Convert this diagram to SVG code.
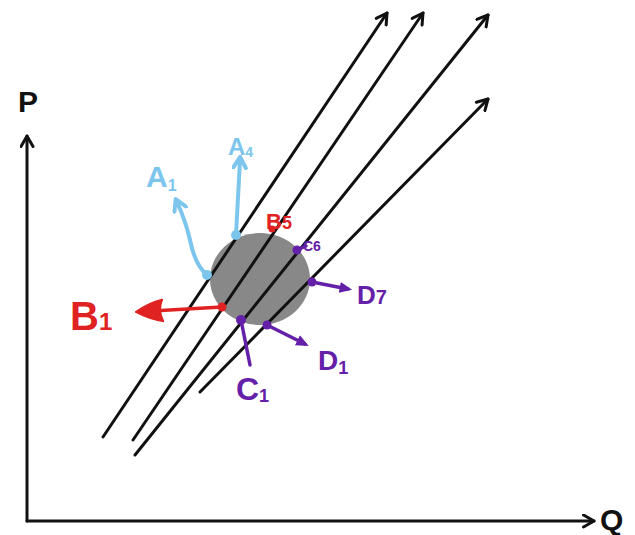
<svg xmlns="http://www.w3.org/2000/svg" width="635" height="535" viewBox="0 0 635 535">
<style>
.ax{stroke:#111;stroke-width:3;fill:none;stroke-linecap:round}
.ln{stroke:#111;stroke-width:3;fill:none;stroke-linecap:round}
.bl{stroke:#7cc6ee;stroke-width:4;fill:none;stroke-linecap:round}
.rd{stroke:#e02222;stroke-width:3.5;fill:none;stroke-linecap:round}
.pu{stroke:#6420a8;stroke-width:3.5;fill:none;stroke-linecap:round}
.t{font-family:"Liberation Sans",Arial,sans-serif}
</style>
<defs>
<marker id="ah" viewBox="0 0 10 10" refX="8" refY="5" markerWidth="5" markerHeight="5" orient="auto" markerUnits="strokeWidth">
<path d="M1,1 L8,5 L1,9" fill="none" stroke="#111" stroke-width="2" stroke-linecap="round" stroke-linejoin="round"/>
</marker>
<marker id="ahB" viewBox="0 0 10 10" refX="6" refY="5" markerWidth="4" markerHeight="4" orient="auto" markerUnits="strokeWidth">
<path d="M1,1 L8,5 L1,9" fill="none" stroke="#7cc6ee" stroke-width="2.5" stroke-linecap="round" stroke-linejoin="round"/>
</marker>
<marker id="ahR" viewBox="0 0 10 10" refX="4" refY="5" markerWidth="8" markerHeight="8" orient="auto" markerUnits="strokeWidth">
<path d="M0,1 Q5,2 10,5 Q5,8 0,9 Q2,5 0,1 Z" fill="#e02222" stroke="#e02222" stroke-width="0.5"/>
</marker>
<marker id="ahP" viewBox="0 0 10 10" refX="6" refY="5" markerWidth="4" markerHeight="4" orient="auto" markerUnits="strokeWidth">
<path d="M0,1 L9,5 L0,9 Z" fill="#6420a8"/>
</marker>
</defs>
<rect width="635" height="535" fill="#fff"/>
<g id="axes">
<line class="ax" x1="27" y1="521" x2="27" y2="136" marker-end="url(#ah)"/>
<line class="ax" x1="27" y1="521" x2="594" y2="521" marker-end="url(#ah)"/>
<text class="t" x="18" y="112" font-size="30" font-weight="bold" fill="#111">P</text>
<text class="t" x="600" y="530" font-size="30" font-weight="bold" fill="#111">Q</text>
</g>
<g id="region">
<ellipse cx="260" cy="279" rx="50" ry="46" fill="#888"/>
</g>
<g id="connectors">
<line class="ln" x1="103" y1="437" x2="387" y2="13" marker-end="url(#ah)"/>
<line class="ln" x1="133" y1="440" x2="423" y2="13" marker-end="url(#ah)"/>
<line class="ln" x1="135" y1="455" x2="488" y2="15" marker-end="url(#ah)"/>
<line class="ln" x1="200" y1="392" x2="488" y2="99" marker-end="url(#ah)"/>
<path class="bl" d="M207,275 Q195,265 190,240 Q186,222 177,202" marker-end="url(#ahB)"/>
<line class="bl" x1="236" y1="235" x2="240" y2="160" marker-end="url(#ahB)"/>
<line class="rd" x1="222" y1="307" x2="152" y2="311" marker-end="url(#ahR)"/>
<line class="pu" x1="312" y1="282" x2="348" y2="289" marker-end="url(#ahP)"/>
<line class="pu" x1="267" y1="325" x2="305" y2="344" marker-end="url(#ahP)"/>
<line class="pu" x1="241" y1="320" x2="250" y2="365"/>
<line class="pu" x1="297" y1="250" x2="306" y2="246"/>
</g>
<g id="A1">
<circle cx="207" cy="275" r="5" fill="#7cc6ee"/>
<text class="t" x="146" y="187" font-size="30" font-weight="bold" fill="#7cc6ee">A<tspan font-size="16" dy="4">1</tspan></text>
</g>
<g id="A4">
<circle cx="236" cy="235" r="5" fill="#7cc6ee"/>
<text class="t" x="228" y="155" font-size="24" font-weight="bold" fill="#7cc6ee">A<tspan font-size="14" dy="2">4</tspan></text>
</g>
<g id="B5">
<circle cx="272" cy="229" r="3.5" fill="#e02222"/>
<text class="t" x="266" y="229" font-size="22" font-weight="bold" fill="#e02222">B<tspan font-size="18">5</tspan></text>
</g>
<g id="B1">
<circle cx="222" cy="307" r="4.5" fill="#e02222"/>
<text class="t" x="70" y="330" font-size="40" font-weight="bold" fill="#e02222">B<tspan font-size="24">1</tspan></text>
</g>
<g id="C6">
<circle cx="297" cy="250" r="4.5" fill="#6420a8"/>
<text class="t" x="303" y="251" font-size="14" font-weight="bold" fill="#6420a8">C6</text>
</g>
<g id="D7">
<circle cx="312" cy="282" r="4.5" fill="#6420a8"/>
<text class="t" x="357" y="304" font-size="26" font-weight="bold" fill="#6420a8">D<tspan font-size="20">7</tspan></text>
</g>
<g id="D1">
<circle cx="267" cy="325" r="4.5" fill="#6420a8"/>
<text class="t" x="318" y="370" font-size="28" font-weight="bold" fill="#6420a8">D<tspan font-size="18" dy="4">1</tspan></text>
</g>
<g id="C1">
<circle cx="241" cy="320" r="5" fill="#6420a8"/>
<text class="t" x="236" y="400" font-size="32" font-weight="bold" fill="#6420a8">C<tspan font-size="18" dy="2">1</tspan></text>
</g>
</svg>
